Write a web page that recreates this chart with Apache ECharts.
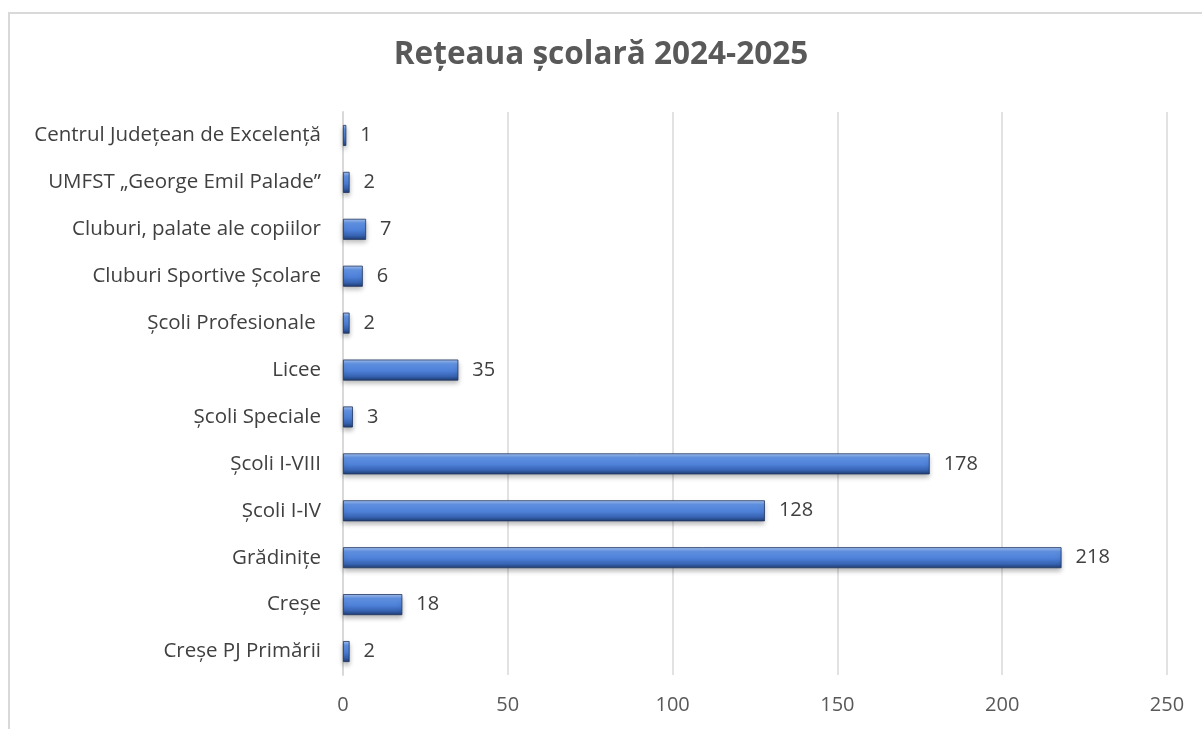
<!DOCTYPE html>
<html>
<head>
<meta charset="utf-8">
<script src="https://cdn.jsdelivr.net/npm/echarts@6/dist/echarts.min.js"></script>
<style>
  html, body { margin: 0; padding: 0; background: #fff; }
  #frame { position: absolute; left: 8px; top: 12px; width: 1210px; height: 740px; border: 2px solid #d9d9d9; box-sizing: border-box; }
  #chart { position: absolute; left: 0; top: 0; width: 1202px; height: 729px; }
</style>
</head>
<body>
<div id="frame"></div>
<div id="chart"></div>
<script>
// categories from bottom to top, as drawn
const categories = [
  'Creșe PJ Primării',
  'Creșe',
  'Grădinițe',
  'Școli I-IV',
  'Școli I-VIII',
  'Școli Speciale',
  'Licee',
  'Școli Profesionale ',
  'Cluburi Sportive Școlare',
  'Cluburi, palate ale copiilor',
  'UMFST „George Emil Palade”',
  'Centrul Județean de Excelență'
];
const values = [2, 18, 218, 128, 178, 3, 35, 2, 6, 7, 2, 1];
const xTicks = [0, 50, 100, 150, 200, 250];

const font = '"Open Sans", "Noto Sans", sans-serif';
let myChart = echarts.init(document.getElementById('chart'));
let option = {
  animation: false,
  title: {
    text: 'Rețeaua școlară 2024-2025',
    left: 'center',
    top: 34,
    textStyle: { fontFamily: font, fontSize: 31.5, fontWeight: 'bold', color: '#595959' }
  },
  grid: { left: 343, top: 112, width: 824, height: 563, containLabel: false },
  xAxis: {
    type: 'value',
    min: xTicks[0],
    max: xTicks[xTicks.length - 1],
    interval: 50,
    axisLine: { show: false },
    axisTick: { show: false },
    splitLine: { lineStyle: { color: '#d9d9d9', width: 1.5 } },
    axisLabel: { margin: 20, fontFamily: font, fontSize: 20, color: '#595959' }
  },
  yAxis: {
    type: 'category',
    data: categories,
    axisLine: { show: true, lineStyle: { color: '#d9d9d9', width: 2 } },
    axisTick: { show: false },
    axisLabel: { margin: 22, fontFamily: font, fontSize: 20.5, color: '#404040' }
  },
  series: [
    {
      type: 'bar',
      data: values,
      barWidth: 21,
      itemStyle: {
        color: new echarts.graphic.LinearGradient(0, 0, 0, 1, [
          { offset: 0, color: '#a8c4f2' },
          { offset: 0.2, color: '#6294e6' },
          { offset: 0.55, color: '#4c7fd6' },
          { offset: 0.8, color: '#3763b2' },
          { offset: 1, color: '#1f3c70' }
        ]),
        borderColor: '#1f3560',
        borderWidth: 0.8,
        shadowColor: 'rgba(0,0,0,0.3)',
        shadowBlur: 5,
        shadowOffsetY: 3
      },
      label: {
        show: true,
        position: 'right',
        distance: 14,
        fontFamily: font,
        fontSize: 20,
        color: '#404040'
      }
    }
  ]
};
myChart.setOption(option);
</script>
</body>
</html>
